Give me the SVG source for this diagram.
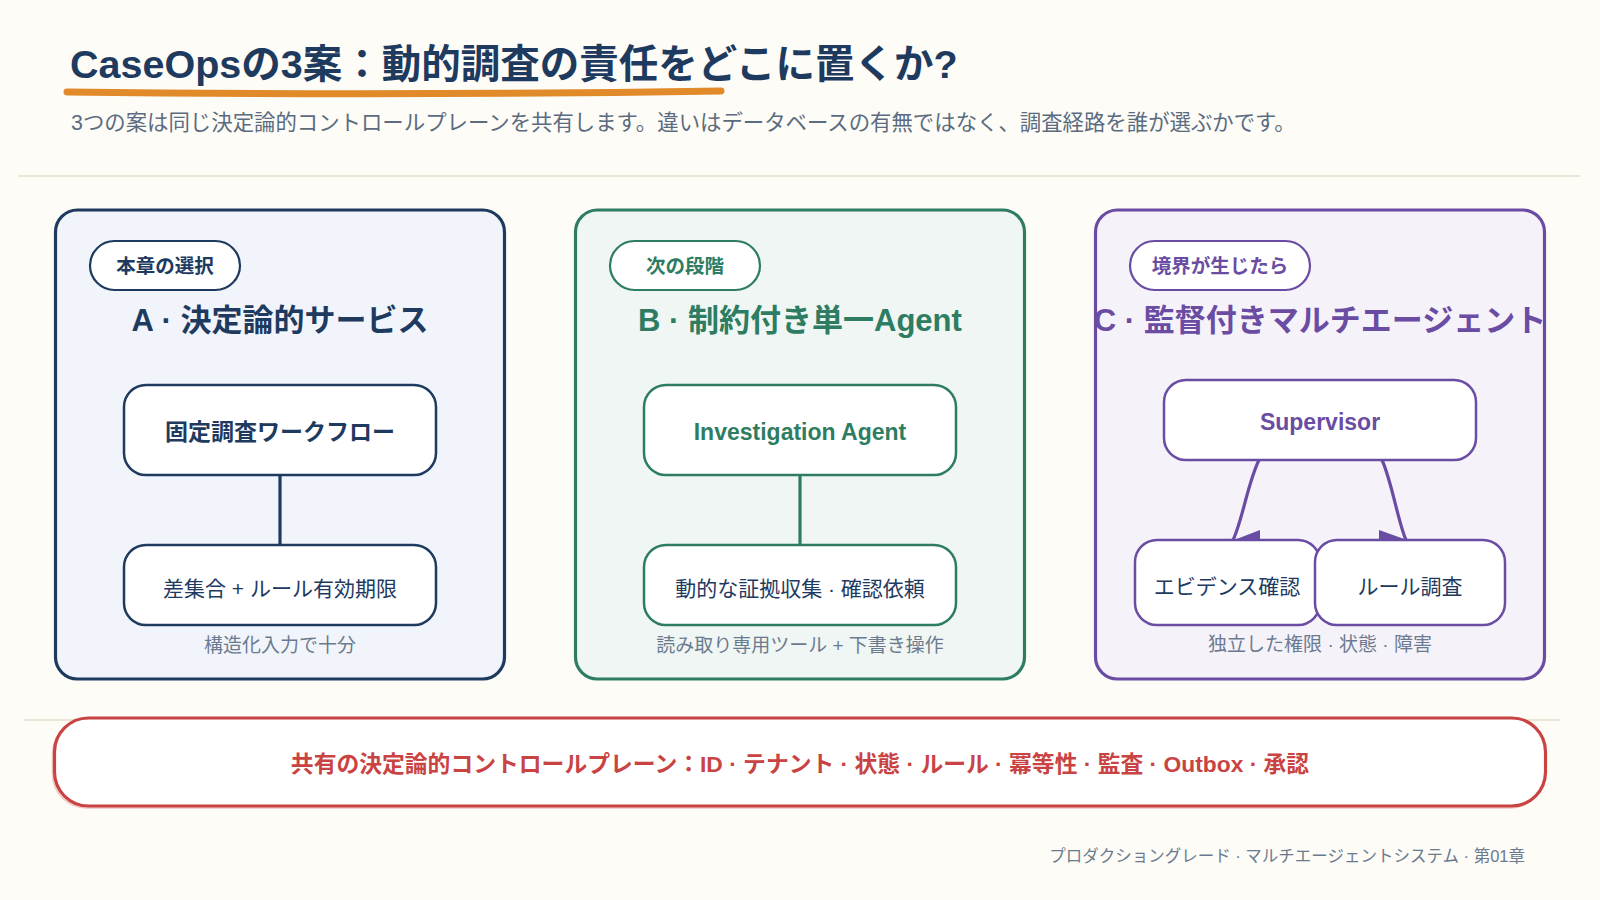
<svg xmlns="http://www.w3.org/2000/svg" width="1600" height="900" viewBox="0 0 1600 900">
  <defs>
    <style>
      text { font-family: "Liberation Sans", "Noto Sans CJK JP", sans-serif; }
      .navy { fill: #1e3a5f; }
      .green { fill: #2e7d62; }
      .purple { fill: #6a4ca3; }
      .title { font-size: 31px; font-weight: 700; text-anchor: middle; }
      .pilltxt { font-size: 19.5px; font-weight: 700; text-anchor: middle; }
      .ntxt-b { font-size: 23px; font-weight: 700; text-anchor: middle; }
      .ntxt { font-size: 21px; font-weight: 400; text-anchor: middle; fill: #1e3a5f; }
      .cap { font-size: 19px; font-weight: 400; text-anchor: middle; fill: #6b7b8f; }
      .node { fill: #ffffff; stroke-width: 2.5; }
      .pill { fill: #ffffff; stroke-width: 2.2; }
      .panel { stroke-width: 3.2; }
      .sN { stroke: #1e3a5f; }
      .sG { stroke: #2e7d62; }
      .sP { stroke: #6a4ca3; }
      .conn { fill: none; stroke-width: 3.2; stroke-linecap: round; }
      .head { fill: #6a4ca3; }
    </style>
    <clipPath id="clipC">
      <rect x="1095.5" y="209" width="449" height="471" rx="22"/>
    </clipPath>
  </defs>

  <rect x="0" y="0" width="1600" height="900" fill="#fdfcf7"/>

  <!-- Header -->
  <g id="header">
    <text x="70" y="78" font-size="39.5" font-weight="700" fill="#1e3a5f">CaseOpsの3案：動的調査の責任をどこに置くか?</text>
    <path d="M67 92 Q 400 96 721 91" fill="none" stroke="#e08a2a" stroke-width="7" stroke-linecap="round"/>
    <text x="71" y="130" font-size="21.4" fill="#5b6b80">3つの案は同じ決定論的コントロールプレーンを共有します。違いはデータベースの有無ではなく、調査経路を誰が選ぶかです。</text>
    <line x1="18" y1="176" x2="1580" y2="176" stroke="#ece6d8" stroke-width="2"/>
  </g>

  <!-- Panel A -->
  <g id="panelA">
    <rect class="panel sN" x="55.5" y="210" width="449" height="469" rx="22" fill="#f1f5fb"/>
    <rect class="pill sN" x="90" y="241" width="150" height="49" rx="24.5"/>
    <text class="pilltxt navy" x="165" y="273">本章の選択</text>
    <text class="title navy" x="280" y="331">A · 決定論的サービス</text>
    <text class="cap" x="280" y="652">構造化入力で十分</text>
  </g>

  <!-- Panel B -->
  <g id="panelB">
    <rect class="panel sG" x="575.5" y="210" width="449" height="469" rx="22" fill="#eff6f3"/>
    <rect class="pill sG" x="610" y="241" width="150" height="49" rx="24.5"/>
    <text class="pilltxt green" x="685" y="273">次の段階</text>
    <text class="title green" x="800" y="331">B · 制約付き単一Agent</text>
    <text class="cap" x="800" y="652">読み取り専用ツール + 下書き操作</text>
  </g>

  <!-- Panel C -->
  <g id="panelC">
    <rect class="panel sP" x="1095.5" y="210" width="449" height="469" rx="22" fill="#f5f2fa"/>
    <rect class="pill sP" x="1130" y="241" width="180" height="49" rx="24.5"/>
    <text class="pilltxt purple" x="1220" y="273">境界が生じたら</text>
    <text class="title purple" x="1320" y="331" clip-path="url(#clipC)">C · 監督付きマルチエージェント</text>
    <text class="cap" x="1320" y="651">独立した権限 · 状態 · 障害</text>
  </g>

  <!-- Connectors -->
  <g id="connectors">
    <line class="conn sN" x1="280" y1="475" x2="280" y2="545"/>
    <line class="conn sG" x1="800" y1="475" x2="800" y2="545"/>
    <path class="conn sP" d="M1259 460 C1248 482 1242 522 1233 540"/>
    <polygon class="head" points="1234,540 1260,530 1260,550"/>
    <path class="conn sP" d="M1382 460 C1392 482 1398 522 1406 540"/>
    <polygon class="head" points="1407,540 1379,530 1379,550"/>
  </g>

  <!-- Nodes A -->
  <g id="nodeA1">
    <rect class="node sN" x="124" y="385" width="312" height="90" rx="22"/>
    <text class="ntxt-b navy" x="280" y="440">固定調査ワークフロー</text>
  </g>
  <g id="nodeA2">
    <rect class="node sN" x="124" y="545" width="312" height="80" rx="22"/>
    <text class="ntxt" x="280" y="596">差集合 + ルール有効期限</text>
  </g>

  <!-- Nodes B -->
  <g id="nodeB1">
    <rect class="node sG" x="644" y="385" width="312" height="90" rx="22"/>
    <text class="ntxt-b green" x="800" y="440" font-size="23.5">Investigation Agent</text>
  </g>
  <g id="nodeB2">
    <rect class="node sG" x="644" y="545" width="312" height="80" rx="22"/>
    <text class="ntxt" x="800" y="596">動的な証拠収集 · 確認依頼</text>
  </g>

  <!-- Nodes C -->
  <g id="nodeC1">
    <rect class="node sP" x="1164" y="380" width="312" height="80" rx="22"/>
    <text class="ntxt-b purple" x="1320" y="430" font-size="24.5">Supervisor</text>
  </g>
  <g id="nodeC2">
    <rect class="node sP" x="1135" y="540" width="185" height="85" rx="22"/>
    <text class="ntxt" x="1227" y="594" font-size="20.5">エビデンス確認</text>
  </g>
  <g id="nodeC3">
    <rect class="node sP" x="1315" y="540" width="190" height="85" rx="22"/>
    <text class="ntxt" x="1410" y="594" font-size="20.5">ルール調査</text>
  </g>

  <!-- Shared control plane -->
  <g id="controlPlane">
    <line x1="24" y1="720" x2="1560" y2="720" stroke="#ece6d8" stroke-width="2"/>
    <rect x="52.5" y="720" width="1491" height="88" rx="34" fill="none" stroke="#e8a3a3" stroke-width="1.5" opacity="0.6"/>
    <rect x="54.5" y="718" width="1491" height="88" rx="34" fill="#ffffff" stroke="#c94343" stroke-width="3.2"/>
    <text x="800" y="772" font-size="22.8" font-weight="700" fill="#c94343" text-anchor="middle">共有の決定論的コントロールプレーン：ID · テナント · 状態 · ルール · 冪等性 · 監査 · Outbox · 承認</text>
  </g>

  <!-- Footer -->
  <g id="footer">
    <text x="1525" y="862" font-size="16.5" fill="#6b7b8f" text-anchor="end">プロダクショングレード · マルチエージェントシステム · 第01章</text>
  </g>
</svg>
